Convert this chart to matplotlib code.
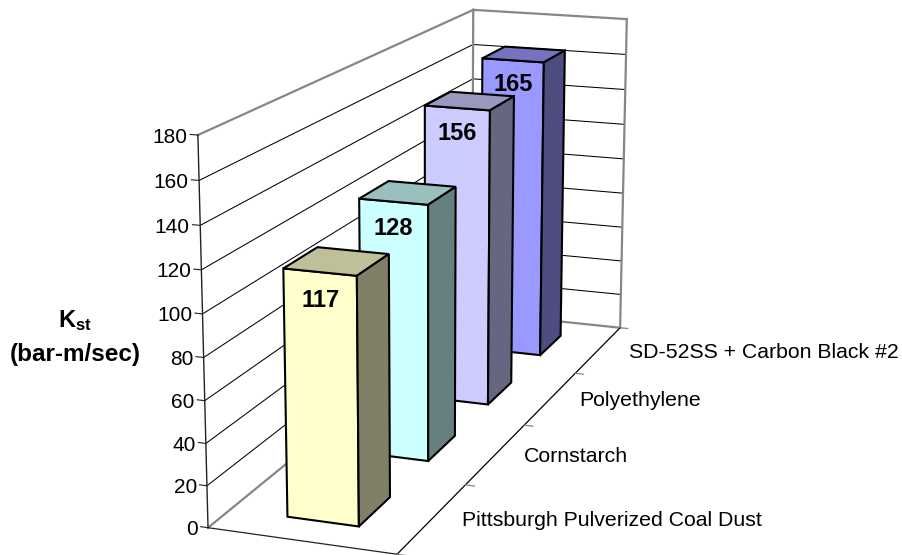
import numpy as np
import matplotlib
matplotlib.use('Agg')
import matplotlib.pyplot as plt

plt.rcParams['font.family'] = ['Liberation Sans', 'DejaVu Sans']
plt.rcParams['mathtext.fontset'] = 'custom'
plt.rcParams['mathtext.bf'] = 'Liberation Sans:bold'

#chart data
categories = ['Pittsburgh Pulverized Coal Dust', 'Cornstarch', 'Polyethylene', 'SD-52SS + Carbon Black #2']
kst_values = [117, 128, 156, 165]
value_ticks = [0, 20, 40, 60, 80, 100, 120, 140, 160, 180]

front_colors = ['#FFFFCC', '#CCFFFF', '#CCCCFF', '#9999FF']
top_colors = ['#BFBF99', '#99BFBF', '#9999BF', '#7373BF']
side_colors = ['#808066', '#668080', '#666680', '#4D4D80']

W, H = 902, 555
zmax = value_ticks[-1]
ndepth = len(categories)

#corners of the chart box (x, depth, value) and where they sit in the image
box_pts = [(0, 0, 0), (0, 0, zmax), (0, ndepth, 0), (0, ndepth, zmax),
           (1, ndepth, 0), (1, ndepth, zmax), (1, 0, 0)]
img_pts = [(208, 528), (198, 135), (472, 312), (473, 10),
           (620, 328), (627, 19), (397, 554)]


#solves the perspective of the excel chart from the box corners
def fit_camera(box, img):
    A = []
    b = []
    for (x, y, z), (u, v) in zip(box, img):
        A.append([x, y, z, 1, 0, 0, 0, 0, -u*x, -u*y, -u*z])
        b.append(u)
        A.append([0, 0, 0, 0, x, y, z, 1, -v*x, -v*y, -v*z])
        b.append(v)
    p = np.linalg.lstsq(np.array(A, float), np.array(b, float), rcond=None)[0]
    return np.append(p, 1).reshape(3, 4)


camera = fit_camera(box_pts, img_pts)


#takes lists of x, depth, value and gives the 2d points
def project(xs, ys, zs):
    pts = np.column_stack([xs, ys, zs, np.ones(len(xs))])
    out = pts @ camera.T
    return out[:, 0]/out[:, 2], out[:, 1]/out[:, 2]


def line3d(xs, ys, zs, **kw):
    px, py = project(xs, ys, zs)
    ax.plot(px, py, solid_capstyle='projecting', **kw)


fig = plt.figure(figsize=(W/100, H/100), dpi=100)
ax = fig.add_axes([0, 0, 1, 1])
ax.set_xlim(0, W)
ax.set_ylim(H, 0)
ax.axis('off')

wall_col = '#868686'
dark = '#222222'

#gridlines along left wall and back wall
for t in value_ticks[1:-1]:
    line3d([0, 0, 1], [0, ndepth, ndepth], [t, t, t], color='black', lw=0.75, zorder=1)

#walls outline
line3d([0, 0], [0, ndepth], [zmax, zmax], color=wall_col, lw=1.6, zorder=2)
line3d([0, 1], [ndepth, ndepth], [zmax, zmax], color=wall_col, lw=1.6, zorder=2)
line3d([1, 1], [ndepth, ndepth], [0, zmax], color=wall_col, lw=1.6, zorder=2)
line3d([0, 0], [ndepth, ndepth], [0, zmax], color=wall_col, lw=1.6, zorder=2)
line3d([0, 0], [0, ndepth], [0, 0], color=wall_col, lw=1.6, zorder=2)
line3d([0, 1], [ndepth, ndepth], [0, 0], color=wall_col, lw=1.6, zorder=2)

#value axis and ticks
line3d([0, 0], [0, 0], [0, zmax], color=dark, lw=1.0, zorder=3)
for t in value_ticks:
    line3d([-0.04, 0], [0, 0], [t, t], color=dark, lw=0.8, zorder=3)
    tx, ty = project([-0.055], [0], [t])
    ax.text(tx[0], ty[0] + 3, str(t), ha='right', va='center', fontsize=15, color='black', zorder=8)

#floor front edges and depth ticks
line3d([0, 1], [0, 0], [0, 0], color=dark, lw=0.9, zorder=3)
line3d([1, 1], [0, ndepth], [0, 0], color='black', lw=0.9, zorder=3)
for i in range(ndepth + 1):
    line3d([1, 1.05], [i, i], [0, 0], color=wall_col, lw=0.9, zorder=3)

#bars, back one first
x0, x1 = 0.31, 0.695
d0, d1 = 0.27, 0.70
for i in range(ndepth - 1, -1, -1):
    v = kst_values[i]
    y0, y1 = i + d0, i + d1
    faces = [([x0, x1, x1, x0], [y0, y0, y0, y0], [0, 0, v, v], front_colors[i]),
             ([x0, x1, x1, x0], [y0, y0, y1, y1], [v, v, v, v], top_colors[i]),
             ([x1, x1, x1, x1], [y0, y1, y1, y0], [0, 0, v, v], side_colors[i])]
    order = 10 + 2*(ndepth - i)
    for xs, ys, zs, col in faces:
        px, py = project(xs, ys, zs)
        ax.fill(px, py, facecolor=col, edgecolor='black', lw=1.5, joinstyle='miter', zorder=order)
    tx, ty = project([(x0 + x1)/2], [y0], [v - 13])
    ax.text(tx[0], ty[0], str(v), ha='center', va='center', fontsize=17, fontweight='bold',
            color='black', zorder=order + 1)

#category labels
cat_x = [612, 576, 640, 764]
cat_y = [521, 457, 401, 353]
for name, cx, cy in zip(categories, cat_x, cat_y):
    ax.text(cx, cy, name, ha='center', va='center', fontsize=15.3, color='black')

#axis title
ax.text(75, 321, r'$\mathbf{K_{st}}$', ha='center', va='center', fontsize=17)
ax.text(75, 354, '(bar-m/sec)', ha='center', va='center', fontsize=17.5, fontweight='bold')

fig.savefig('out.png', dpi=100)
